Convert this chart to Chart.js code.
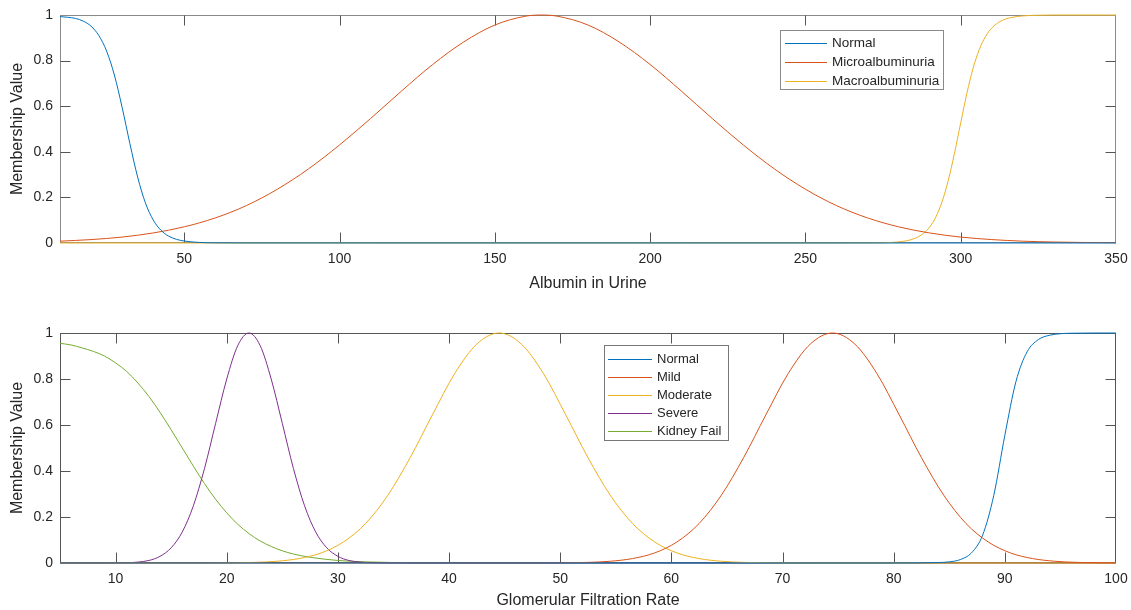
<!DOCTYPE html>
<html>
<head>
<meta charset="utf-8">
<script src="https://cdn.jsdelivr.net/npm/chart.js@4.4.1/dist/chart.umd.min.js"></script>
<style>
  html, body { margin: 0; padding: 0; background: #ffffff; }
  #wrap { position: relative; width: 1131px; height: 610px; overflow: hidden; background: #fff; }
  #c1 { position: absolute; left: 0; top: 0; }
  #c2 { position: absolute; left: 0; top: 300px; }
</style>
</head>
<body>
<div id="wrap">
  <canvas id="c1" width="1131" height="300"></canvas>
  <canvas id="c2" width="1131" height="310"></canvas>
</div>
<script>
// ---------------- DATA: Albumin in Urine ----------------
const albTicks = [50, 100, 150, 200, 250, 300, 350];
const yTicks = [0, 0.2, 0.4, 0.6, 0.8, 1];
const yTickLabels = ['0', '0.2', '0.4', '0.6', '0.8', '1'];
const albLabels = ['Normal', 'Microalbuminuria', 'Macroalbuminuria'];

const albNormalX = [10, 12.5, 15, 17.5, 20, 22.5, 25, 27.5, 30, 32.5, 35, 37.5, 40, 42.5, 45, 47.5, 50, 55, 60, 70, 350];
const albNormalY = [0.993, 0.99, 0.985, 0.973, 0.951, 0.91, 0.842, 0.737, 0.595, 0.436, 0.289, 0.176, 0.101, 0.056, 0.03, 0.016, 0.0086, 0.0024, 0.0007, 0.0001, 0];

const albMicroX = [10, 20, 30, 40, 50, 60, 70, 80, 90, 100, 110, 120, 130, 140, 150, 160, 165, 170, 180, 190, 200, 210, 220, 230, 240, 250, 260, 270, 280, 290, 300, 310, 320, 330, 340, 350];
const albMicroY = [0.008, 0.015, 0.026, 0.044, 0.071, 0.11, 0.164, 0.236, 0.325, 0.43, 0.546, 0.667, 0.783, 0.882, 0.956, 0.995, 1, 0.995, 0.956, 0.882, 0.783, 0.667, 0.546, 0.43, 0.325, 0.236, 0.164, 0.11, 0.071, 0.044, 0.026, 0.015, 0.008, 0.0043, 0.0022, 0.0011];

const albMacroX = [10, 260, 270, 280, 285, 288, 290, 292, 294, 296, 298, 300, 302, 304, 306, 308, 310, 313, 316, 320, 325, 330, 350];
const albMacroY = [0, 0, 0.0003, 0.005, 0.019, 0.042, 0.07, 0.114, 0.181, 0.275, 0.394, 0.527, 0.657, 0.767, 0.849, 0.906, 0.943, 0.974, 0.988, 0.996, 0.999, 1, 1];

// ---------------- DATA: Glomerular Filtration Rate ----------------
const gfrTicks = [10, 20, 30, 40, 50, 60, 70, 80, 90, 100];
const gfrLabels = ['Normal', 'Mild', 'Moderate', 'Severe', 'Kidney Fail'];

const gfrNormalX = [5, 80, 84, 85, 86, 87, 88, 89, 90, 91, 92, 93, 94, 95, 96, 98, 100];
const gfrNormalY = [0, 0, 0.002, 0.005, 0.015, 0.044, 0.121, 0.293, 0.555, 0.789, 0.918, 0.971, 0.99, 0.997, 0.999, 1, 1];

const gfrMildX = [5, 48, 50.5, 52.5, 54.5, 56.5, 58.5, 60.5, 62.5, 64.5, 66.5, 68.5, 70.5, 72.5, 74.5, 76.5, 78.5, 80.5, 82.5, 84.5, 86.5, 88.5, 90.5, 92.5, 94.5, 96.5, 98.5, 100];
const gfrMildY = [0, 0, 0.0009, 0.0027, 0.0076, 0.0192, 0.0439, 0.0914, 0.172, 0.295, 0.458, 0.644, 0.823, 0.952, 1, 0.952, 0.823, 0.644, 0.458, 0.295, 0.172, 0.0914, 0.0439, 0.0192, 0.0076, 0.0027, 0.0009, 0.0004];

const gfrModerateX = [5, 18, 20.5, 22.5, 24.5, 26.5, 28.5, 30.5, 32.5, 34.5, 36.5, 38.5, 40.5, 42.5, 44.5, 46.5, 48.5, 50.5, 52.5, 54.5, 56.5, 58.5, 60.5, 62.5, 64.5, 66.5, 68.5, 72, 100];
const gfrModerateY = [0, 0, 0.0009, 0.0027, 0.0076, 0.0192, 0.0439, 0.0914, 0.172, 0.295, 0.458, 0.644, 0.823, 0.952, 1, 0.952, 0.823, 0.644, 0.458, 0.295, 0.172, 0.0914, 0.0439, 0.0192, 0.0076, 0.0027, 0.0009, 0, 0];

const gfrSevereX = [5, 9, 11, 12, 13, 14, 15, 16, 17, 18, 19, 20, 21, 22, 23, 24, 25, 26, 27, 28, 29, 30, 31, 32, 33, 35, 100];
const gfrSevereY = [0, 0, 0.0012, 0.0039, 0.011, 0.029, 0.066, 0.135, 0.249, 0.411, 0.607, 0.8, 0.946, 1, 0.946, 0.8, 0.607, 0.411, 0.249, 0.135, 0.066, 0.029, 0.011, 0.0039, 0.0012, 0, 0];

const gfrKidneyX = [5, 6, 7, 8, 9, 10, 11, 12, 13, 14, 15, 16, 17, 18, 19, 20, 21, 22, 23, 24, 25, 26, 27.5, 30, 32.5, 35, 40, 100];
const gfrKidneyY = [0.955, 0.948, 0.935, 0.92, 0.9, 0.87, 0.833, 0.783, 0.724, 0.655, 0.579, 0.5, 0.421, 0.345, 0.277, 0.218, 0.168, 0.128, 0.096, 0.072, 0.053, 0.039, 0.025, 0.011, 0.005, 0.002, 0.0003, 0];

// ---------------- STYLE ----------------
const COLORS = ['#0072BD', '#D95319', '#EDB120', '#7E2F8E', '#77AC30'];
const FONT = "'Liberation Sans', Arial, Helvetica, sans-serif";
const TEXT = '#262626';
Chart.defaults.font.family = FONT;
Chart.defaults.color = TEXT;

function pts(xs, ys) { return xs.map((x, i) => ({ x: x, y: ys[i] })); }

function ds(label, xs, ys, color) {
  return {
    label: label, data: pts(xs, ys), borderColor: color, backgroundColor: color,
    borderWidth: 1, pointRadius: 0, pointHoverRadius: 0, fill: false,
    cubicInterpolationMode: 'monotone', clip: false
  };
}

// MATLAB-like box with inward ticks on all four sides
const matlabAxes = {
  id: 'matlabAxes',
  beforeDatasetsDraw(chart, args, o) {
    const { ctx, chartArea: a } = chart;
    const xs = chart.scales.x, ys = chart.scales.y;
    const L = Math.round(a.left) + 0.5, R = Math.round(a.right) - 0.5;
    const T = Math.round(a.top) + 0.5, B = Math.round(a.bottom) - 0.5;
    ctx.save();
    ctx.strokeStyle = o.color;
    ctx.lineWidth = 1;
    ctx.strokeRect(L, T, R - L, B - T);
    ctx.strokeStyle = o.tickColor;
    ctx.beginPath();
    xs.ticks.forEach(t => {
      const p = Math.round(xs.getPixelForValue(t.value)) + 0.5;
      if (p <= L + 1 || p >= R - 1) return;
      ctx.moveTo(p, B); ctx.lineTo(p, B - o.len);
      ctx.moveTo(p, T); ctx.lineTo(p, T + o.len);
    });
    ys.ticks.forEach(t => {
      const p = Math.round(ys.getPixelForValue(t.value)) + 0.5;
      if (p <= T + 1 || p >= B - 1) return;
      ctx.moveTo(L, p); ctx.lineTo(L + o.len, p);
      ctx.moveTo(R, p); ctx.lineTo(R - o.len, p);
    });
    ctx.stroke();
    ctx.restore();
  }
};

// Boxed legend placed inside the axes, built from the datasets
const boxLegend = {
  id: 'boxLegend',
  afterDatasetsDraw(chart, args, o) {
    const ctx = chart.ctx;
    ctx.save();
    ctx.fillStyle = '#ffffff';
    ctx.fillRect(o.x, o.y, o.w, o.h);
    ctx.strokeStyle = o.borderColor;
    ctx.lineWidth = 1;
    ctx.strokeRect(o.x + 0.5, o.y + 0.5, o.w, o.h);
    ctx.font = o.fontSize + 'px ' + FONT;
    ctx.textBaseline = 'middle';
    ctx.textAlign = 'left';
    chart.data.datasets.forEach((d, i) => {
      const yy = Math.round(o.y + o.first + i * o.step) + 0.5;
      ctx.strokeStyle = d.borderColor;
      ctx.beginPath();
      ctx.moveTo(o.x + o.lineStart, yy);
      ctx.lineTo(o.x + o.lineEnd, yy);
      ctx.stroke();
      ctx.fillStyle = TEXT;
      ctx.fillText(d.label, o.x + o.textX, yy);
    });
    ctx.restore();
  }
};

function makeChart(canvas, cfg) {
  return new Chart(canvas, {
    type: 'line',
    data: { datasets: cfg.datasets },
    plugins: [matlabAxes, boxLegend],
    options: {
      responsive: false,
      animation: false,
      devicePixelRatio: 1,
      events: [],
      layout: { padding: { top: cfg.padTop, right: 15, left: 0, bottom: 0 } },
      plugins: {
        legend: { display: false },
        tooltip: { enabled: false },
        matlabAxes: { color: cfg.boxColor, tickColor: cfg.tickColor, len: 10 },
        boxLegend: cfg.legend
      },
      scales: {
        x: {
          type: 'linear', min: cfg.xMin, max: cfg.xMax,
          afterBuildTicks: s => { s.ticks = cfg.xTicks.map(v => ({ value: v })); },
          afterFit: s => { s.height = cfg.xHeight; s.paddingLeft = 0; s.paddingRight = 0; },
          grid: { display: false, drawTicks: false },
          border: { display: false },
          ticks: { padding: 8, font: { size: 14 }, color: TEXT, maxRotation: 0, autoSkip: false,
                   callback: v => String(v) },
          title: { display: true, text: cfg.xTitle, font: { size: 16 }, color: TEXT,
                   padding: { top: 0, bottom: cfg.xTitlePad } }
        },
        y: {
          type: 'linear', min: 0, max: 1,
          afterBuildTicks: s => { s.ticks = yTicks.map(v => ({ value: v })); },
          afterFit: s => { s.width = 60; s.paddingTop = 0; s.paddingBottom = 0; },
          grid: { display: false, drawTicks: false },
          border: { display: false },
          ticks: { padding: 7, font: { size: 14 }, color: TEXT,
                   callback: (v, i) => yTickLabels[i] },
          title: { display: true, text: 'Membership Value', font: { size: 16 }, color: TEXT,
                   padding: { top: 8, bottom: 0 } }
        }
      }
    }
  });
}

makeChart(document.getElementById('c1'), {
  datasets: [
    ds(albLabels[0], albNormalX, albNormalY, COLORS[0]),
    ds(albLabels[1], albMicroX, albMicroY, COLORS[1]),
    ds(albLabels[2], albMacroX, albMacroY, COLORS[2])
  ],
  xMin: 10, xMax: 350, xTicks: albTicks,
  xTitle: 'Albumin in Urine', xHeight: 57, xTitlePad: 7, padTop: 15,
  boxColor: '#8a8a8a', tickColor: '#555555',
  legend: { x: 780, y: 30, w: 163, h: 59, first: 13, step: 19, lineStart: 5, lineEnd: 47, textX: 52,
            fontSize: 13.5, borderColor: '#8a8a8a' }
});

makeChart(document.getElementById('c2'), {
  datasets: [
    ds(gfrLabels[0], gfrNormalX, gfrNormalY, COLORS[0]),
    ds(gfrLabels[1], gfrMildX, gfrMildY, COLORS[1]),
    ds(gfrLabels[2], gfrModerateX, gfrModerateY, COLORS[2]),
    ds(gfrLabels[3], gfrSevereX, gfrSevereY, COLORS[3]),
    ds(gfrLabels[4], gfrKidneyX, gfrKidneyY, COLORS[4])
  ],
  xMin: 5, xMax: 100, xTicks: gfrTicks,
  xTitle: 'Glomerular Filtration Rate', xHeight: 47, xTitlePad: 0, padTop: 33,
  boxColor: '#555555', tickColor: '#555555',
  legend: { x: 604, y: 45, w: 124, h: 95, first: 14, step: 18, lineStart: 4, lineEnd: 48, textX: 53,
            fontSize: 13, borderColor: '#777777' }
});
</script>
</body>
</html>
